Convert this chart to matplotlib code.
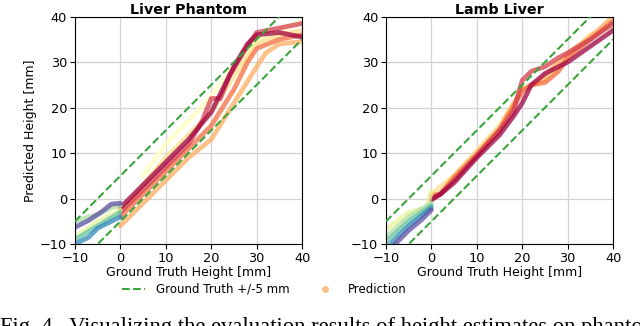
import matplotlib
matplotlib.use("Agg")
from matplotlib import pyplot as plt
from matplotlib.lines import Line2D

# trajectories: (gt height, predicted height) waypoints, colour per trajectory
phantom_tracks = {
    "#ffffbf": ([5, 10, 15, 20, 25, 30, 35, 40], [5, 12, 17, 22.5, 29, 35, 37, 39]),
    "#fee08b": ([0, 5, 10, 15, 20, 25, 30, 35, 40], [-3, 3, 9, 14, 19, 27, 34, 36, 37]),
    "#fdae61": ([0, 5, 10, 15, 20, 25, 30, 32, 35, 40], [-6, -1, 4, 9, 13, 21, 29, 32, 34, 34.5]),
    "#f46d43": ([0, 5, 10, 15, 20, 25, 28, 30, 35, 40], [-4, 1, 6, 11, 16, 24, 30, 33, 35, 36]),
    "#d53e4f": ([0, 5, 10, 15, 18, 20, 22, 24, 27, 30, 35, 40], [-3, 2, 7, 12, 17, 22, 22, 27, 32, 36.5, 37.5, 38.5]),
    "#9e0142": ([0, 5, 10, 15, 20, 23, 25, 28, 30, 35, 40], [-2, 3, 8, 13, 19, 25, 29, 34, 36, 36.5, 35.5]),
    "#e6f598": ([-10, -5, 0], [-8.5, -5, -2.5]),
    "#abdda4": ([-10, -7, -5, -2, 0], [-5, -4, -3.5, -2, -1.5]),
    "#66c2a5": ([-10, -5, 0], [-9, -6, -3]),
    "#3288bd": ([-10, -7, -5, 0], [-10, -8.5, -6.5, -4]),
    "#5e4fa2": ([-10, -7, -4, -2, 0], [-6.3, -4.8, -2.8, -1.2, -1]),
}

lamb_tracks = {
    "#fee08b": ([0, 5, 10, 15, 20, 25, 30, 35, 40], [1, 5, 10.5, 16, 24, 26, 31, 36, 38]),
    "#fdae61": ([0, 2, 5, 10, 15, 20, 24, 30, 35, 40], [1, 1, 5, 10, 15.5, 24, 26, 32, 35.5, 40]),
    "#f46d43": ([0, 2, 5, 10, 15, 20, 22, 25, 28, 30, 35, 40], [0.5, 1, 4.5, 9.5, 15, 23.5, 25, 25.5, 28, 31, 35, 39]),
    "#d53e4f": ([0, 2, 5, 10, 15, 18, 20, 22, 25, 28, 30, 35, 40], [0, 1, 4, 9.5, 15, 19, 26, 28, 29, 31, 32, 35, 38.5]),
    "#9e0142": ([0, 2, 5, 10, 15, 18, 20, 22, 25, 30, 35, 40], [-0.3, 1, 3.5, 9, 14, 18, 21, 25, 27.5, 30, 33.5, 37]),
    "#e6f598": ([-10, -5, -1, 0], [-6.8, -3, -2, 1.5]),
    "#abdda4": ([-10, -5, 0], [-8.5, -4, -1]),
    "#66c2a5": ([-10, -5, 0], [-9.5, -5, -1.5]),
    "#3288bd": ([-9, -5, 0], [-10, -6, -2]),
    "#5e4fa2": ([-8, -5, -2, 0], [-10, -7, -4.5, -2.5]),
}

panels = [("Liver Phantom", phantom_tracks), ("Lamb Liver", lamb_tracks)]
bounds = [-10, 40]
ticks = [-10, 0, 10, 20, 30, 40]
band = 5

plt.rcParams["font.family"] = ["DejaVu Sans"]
fig = plt.figure(figsize=(6.4, 3.26), dpi=100)

ax_rects = [[0.117, 0.251, 0.355, 0.698], [0.603, 0.251, 0.355, 0.698]]
for i, (title, tracks) in enumerate(panels):
    ax = fig.add_axes(ax_rects[i])
    ax.grid(True, color="#d3d3d3", linewidth=0.9)
    ax.set_axisbelow(True)
    for color, (xs, ys) in tracks.items():
        ax.plot(xs, ys, color=color, linewidth=3.4, alpha=0.75, solid_capstyle="round", zorder=2)
    ax.plot(bounds, [b + band for b in bounds], "--", color="#3aa53a", linewidth=1.5, zorder=3)
    ax.plot(bounds, [b - band for b in bounds], "--", color="#3aa53a", linewidth=1.5, zorder=3)
    ax.set_xlim(bounds)
    ax.set_ylim(bounds)
    ax.set_xticks(ticks)
    ax.set_yticks(ticks)
    ax.tick_params(labelsize=9.3, length=3.5, pad=2)
    ax.set_title(title, fontsize=10.3, weight="bold", pad=2)
    ax.set_xlabel("Ground Truth Height [mm]", fontsize=9, labelpad=1)
    if i == 0:
        ax.set_ylabel("Predicted Height [mm]", fontsize=9, labelpad=2)

handles = [
    Line2D([], [], color="#3aa53a", linestyle="--", linewidth=1.5),
    Line2D([], [], color="#fdae61", marker="o", linestyle="none", markersize=4, alpha=0.7),
]
fig.legend(handles, ["Ground Truth +/-5 mm", "Prediction"], loc="center", bbox_to_anchor=(0.413, 0.113),
           ncol=2, frameon=False, fontsize=8.5, columnspacing=2.0, handlelength=1.9, handletextpad=1.0)

fig.text(0.0, -0.022, "Fig. 4.  Visualizing the evaluation results of height estimates on phantom and tissue",
         family=["Liberation Serif", "DejaVu Serif"], fontsize=16.3, va="baseline", ha="left")

fig.savefig("out.png", dpi=100)
